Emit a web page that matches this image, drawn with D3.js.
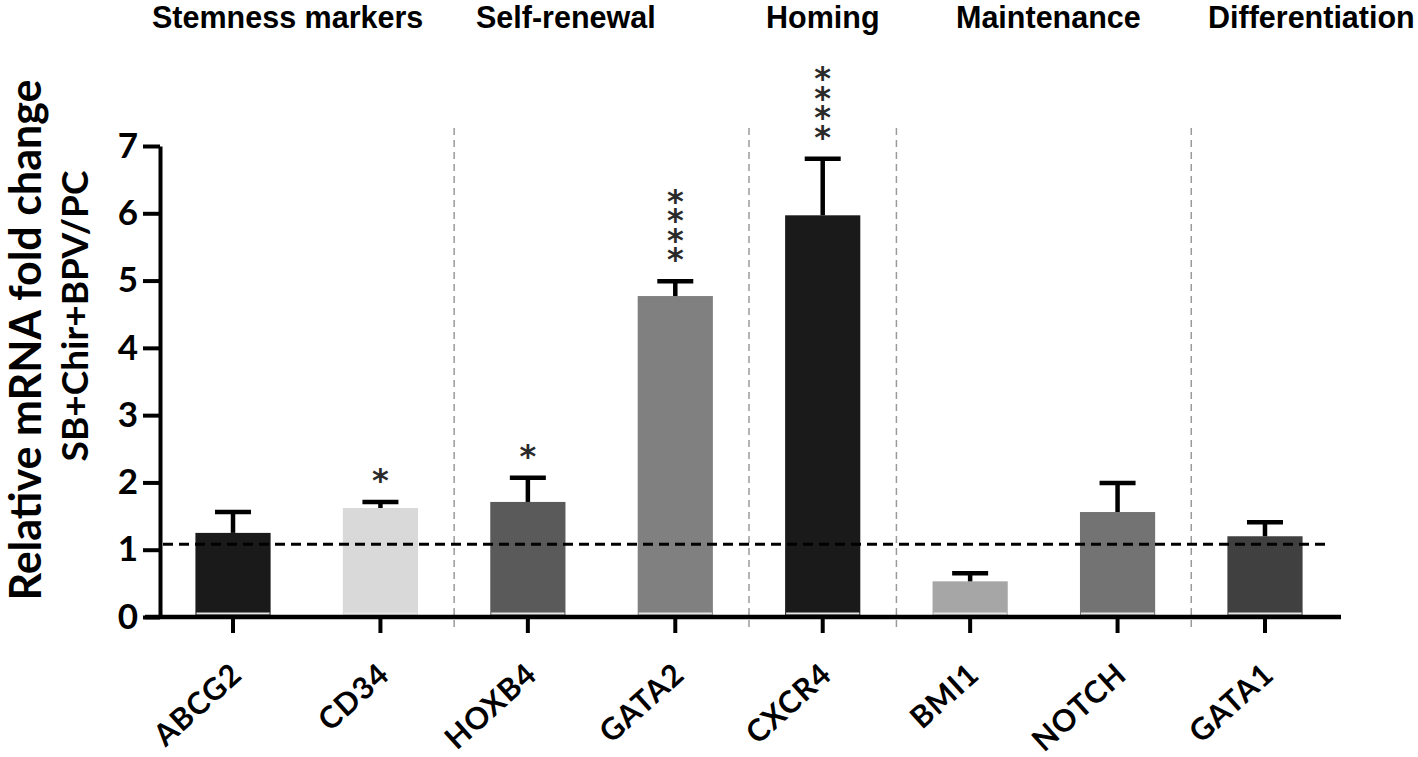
<!DOCTYPE html>
<html>
<head>
<meta charset="utf-8">
<script src="https://cdn.jsdelivr.net/npm/d3@7"></script>
<style>
  html, body { margin: 0; padding: 0; background: #fff; }
  svg { display: block; }
</style>
</head>
<body>
<svg id="chart" width="1418" height="757"></svg>
<script>
// ---------- data ----------
const categories = ["ABCG2", "CD34", "HOXB4", "GATA2", "CXCR4", "BMI1", "NOTCH", "GATA1"];
const meanValues = [1.25, 1.62, 1.71, 4.77, 5.97, 0.53, 1.56, 1.20];
const errorValues = [0.31, 0.09, 0.36, 0.22, 0.84, 0.12, 0.43, 0.21];
const starCounts = [0, 1, 1, 4, 4, 0, 0, 0];
const groupNames = ["Stemness markers", "Self-renewal", "Homing", "Maintenance", "Differentiation"];
const groupSizes = [2, 2, 1, 2, 1];
const yTickValues = [0, 1, 2, 3, 4, 5, 6, 7];
const referenceLevel = 1.08;
const yAxisTitleLines = ["Relative mRNA fold change", "SB+Chir+BPV/PC"];

// ---------- styles / layout ----------
const barColors = ["#1a1a1a", "#d9d9d9", "#5a5a5a", "#808080", "#1a1a1a", "#a6a6a6", "#737373", "#404040"];
const headerX = [152, 476, 766, 956, 1208];
const bodyFont = "Lato, 'Open Sans', sans-serif";
const headFont = "'Liberation Sans', Arial, sans-serif";

const svg = d3.select("#chart");

const x = d3.scaleBand()
  .domain(categories)
  .range([159.3, 1338.7])
  .paddingInner(0.49)
  .paddingOuter(0.245);

const y = d3.scaleLinear().domain([0, 7]).range([617, 146]);

const data = categories.map((c, i) => ({
  cat: c, v: meanValues[i], e: errorValues[i], s: starCounts[i], col: barColors[i]
}));
const cx = d => x(d.cat) + x.bandwidth() / 2;

// group separators (between groups)
let cum = 0;
const sepIdx = [];
groupSizes.slice(0, -1).forEach(n => { cum += n; sepIdx.push(cum); });
const step = x.step();
svg.append("g").selectAll("line").data(sepIdx).join("line")
  .attr("x1", d => x(categories[d - 1]) + x.bandwidth() / 2 + step / 2)
  .attr("x2", d => x(categories[d - 1]) + x.bandwidth() / 2 + step / 2)
  .attr("y1", 128).attr("y2", 627)
  .attr("stroke", "#9a9a9a").attr("stroke-width", 1.5)
  .attr("stroke-dasharray", "7,5");

// headers
svg.append("g").selectAll("text").data(groupNames).join("text")
  .attr("x", (d, i) => headerX[i])
  .attr("y", 28)
  .attr("font-family", headFont)
  .attr("font-weight", "bold")
  .attr("font-size", 30.5)
  .attr("fill", "#000")
  .text(d => d);

// bars
svg.append("g").selectAll("rect").data(data).join("rect")
  .attr("x", d => x(d.cat))
  .attr("width", x.bandwidth())
  .attr("y", d => y(d.v))
  .attr("height", d => y(0) - y(d.v))
  .attr("fill", d => d.col);

// light strip at bar bottoms
svg.append("g").selectAll("line").data(data).join("line")
  .attr("x1", d => x(d.cat) + 1)
  .attr("x2", d => x(d.cat) + x.bandwidth() - 1)
  .attr("y1", y(0) - 3.5).attr("y2", y(0) - 3.5)
  .attr("stroke", "#e6e6e6").attr("stroke-width", 2);

// error bars
const eb = svg.append("g").attr("stroke", "#000").attr("stroke-width", 4.5);
eb.selectAll("line.v").data(data).join("line").attr("class", "v")
  .attr("x1", cx).attr("x2", cx)
  .attr("y1", d => y(d.v))
  .attr("y2", d => y(d.v + d.e));
eb.selectAll("line.c").data(data).join("line").attr("class", "c")
  .attr("x1", d => cx(d) - 18)
  .attr("x2", d => cx(d) + 18)
  .attr("y1", d => y(d.v + d.e))
  .attr("y2", d => y(d.v + d.e));

// reference dashed line
svg.append("line")
  .attr("x1", 163).attr("x2", 1325)
  .attr("y1", y(referenceLevel)).attr("y2", y(referenceLevel))
  .attr("stroke", "#000").attr("stroke-width", 3)
  .attr("stroke-dasharray", "10,6");

// significance stars: one vertical text per bar
const starFs = 32, starSpacing = 19.5, starAdvance = 38;
svg.append("g").selectAll("text").data(data.filter(d => d.s > 0)).join("text")
  .attr("x", cx)
  .attr("y", d => y(d.v + d.e) - 29 - (d.s - 1) * starSpacing - 12)
  .attr("font-family", "'DejaVu Sans', sans-serif")
  .attr("font-weight", "bold")
  .attr("font-size", starFs)
  .attr("fill", "#2a2a2a")
  .style("writing-mode", "vertical-rl")
  .style("text-orientation", "upright")
  .style("letter-spacing", (starSpacing - starAdvance) + "px")
  .text(d => "*".repeat(d.s));

// y axis
const yAxis = svg.append("g")
  .attr("transform", "translate(160,0)")
  .call(d3.axisLeft(y).tickValues(yTickValues).tickFormat(d3.format("d")).tickSize(17).tickPadding(5).tickSizeOuter(0));
yAxis.select(".domain").attr("stroke", "#000").attr("stroke-width", 4);
yAxis.selectAll(".tick line").attr("stroke", "#000").attr("stroke-width", 4);
yAxis.selectAll(".tick text")
  .attr("font-family", bodyFont).attr("font-weight", "bold")
  .attr("font-size", 35).attr("fill", "#000");

// x axis
svg.append("line")
  .attr("x1", 145).attr("x2", 1341)
  .attr("y1", y(0)).attr("y2", y(0))
  .attr("stroke", "#000").attr("stroke-width", 4.5);
const xAxis = svg.append("g")
  .attr("transform", `translate(0,${y(0)})`)
  .call(d3.axisBottom(x).tickSize(16).tickSizeOuter(0));
xAxis.select(".domain").remove();
xAxis.selectAll(".tick line").attr("stroke", "#000").attr("stroke-width", 4);
xAxis.selectAll(".tick text")
  .attr("font-family", bodyFont).attr("font-weight", "bold")
  .attr("font-size", 30.5).attr("fill", "#000")
  .attr("letter-spacing", "1px")
  .attr("text-anchor", "end")
  .attr("y", 0).attr("dy", 0)
  .attr("transform", "translate(11,60) rotate(-42)");

// y axis title
const titleCfg = [{ x: 41, cy: 340, fs: 43 }, { x: 88, cy: 316, fs: 37 }];
svg.append("g").selectAll("text").data(yAxisTitleLines).join("text")
  .attr("transform", (d, i) => `translate(${titleCfg[i].x},${titleCfg[i].cy}) rotate(-90)`)
  .attr("text-anchor", "middle")
  .attr("font-family", bodyFont)
  .attr("font-weight", "bold")
  .attr("font-size", (d, i) => titleCfg[i].fs)
  .attr("fill", "#000")
  .text(d => d);
</script>
</body>
</html>
